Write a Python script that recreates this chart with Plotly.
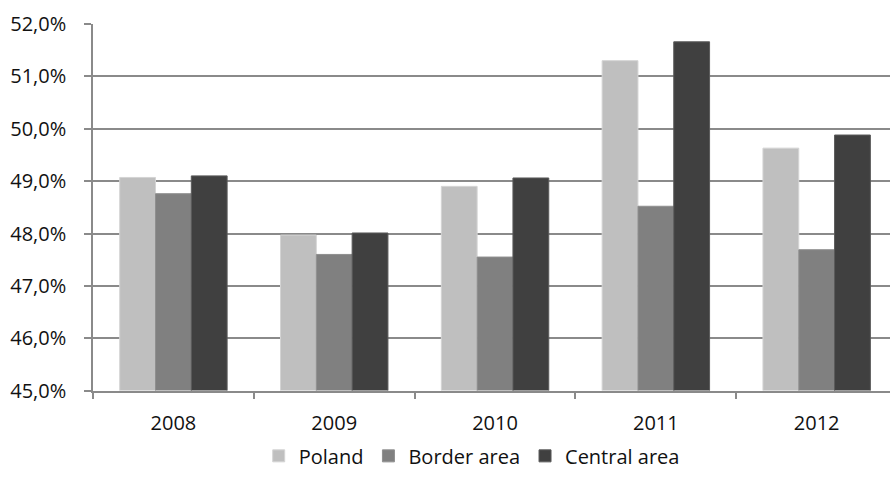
import plotly.graph_objects as go

# Share of the population (%) by year and area
years = ["2008", "2009", "2010", "2011", "2012"]
poland = [49.07, 47.97, 48.90, 51.30, 49.63]
border_area = [48.76, 47.60, 47.55, 48.52, 47.69]
central_area = [49.10, 48.01, 49.06, 51.66, 49.88]

series = [
    ("Poland", poland, "#bfbfbf", "#d4d4d4"),
    ("Border area", border_area, "#808080", "#8f8f8f"),
    ("Central area", central_area, "#404040", "#5a5a5a"),
]

font_family = "'Open Sans', Lato, sans-serif"
axis_grey = "#8a8a8a"
text_color = "#111111"

fig = go.Figure()
for name, values, fill, edge in series:
    fig.add_trace(go.Bar(
        x=years, y=values, name=name,
        marker=dict(color=fill, line=dict(color=edge, width=1)),
    ))

fig.update_layout(
    width=890, height=486,
    margin=dict(l=93, r=0, t=24, b=91),
    paper_bgcolor="white", plot_bgcolor="white",
    barmode="group", bargap=0.332, bargroupgap=0,
    separators=", ",
    font=dict(family=font_family, size=20, color=text_color),
    showlegend=True,
    legend=dict(
        orientation="h",
        xref="container", yref="container",
        x=0.530, xanchor="center",
        y=0.062, yanchor="middle",
        font=dict(family=font_family, size=20, color=text_color),
        itemclick=False, tracegroupgap=0,
    ),
    xaxis=dict(
        type="category",
        range=[-0.5, 4.456],
        showline=True, linecolor=axis_grey, linewidth=1.5,
        ticks="outside", tickson="boundaries", ticklen=7,
        tickcolor=axis_grey, tickwidth=1.5,
        ticklabelstandoff=14,
        showgrid=False,
    ),
    yaxis=dict(
        range=[45, 52],
        dtick=1, tick0=45,
        tickformat=".1f", ticksuffix="%",
        showline=True, linecolor=axis_grey, linewidth=1.5,
        ticks="outside", ticklen=7, tickcolor=axis_grey, tickwidth=1.5,
        ticklabelstandoff=14,
        showgrid=True, gridcolor=axis_grey, gridwidth=1.5,
        zeroline=False,
    ),
)

fig.write_html("out.html")
